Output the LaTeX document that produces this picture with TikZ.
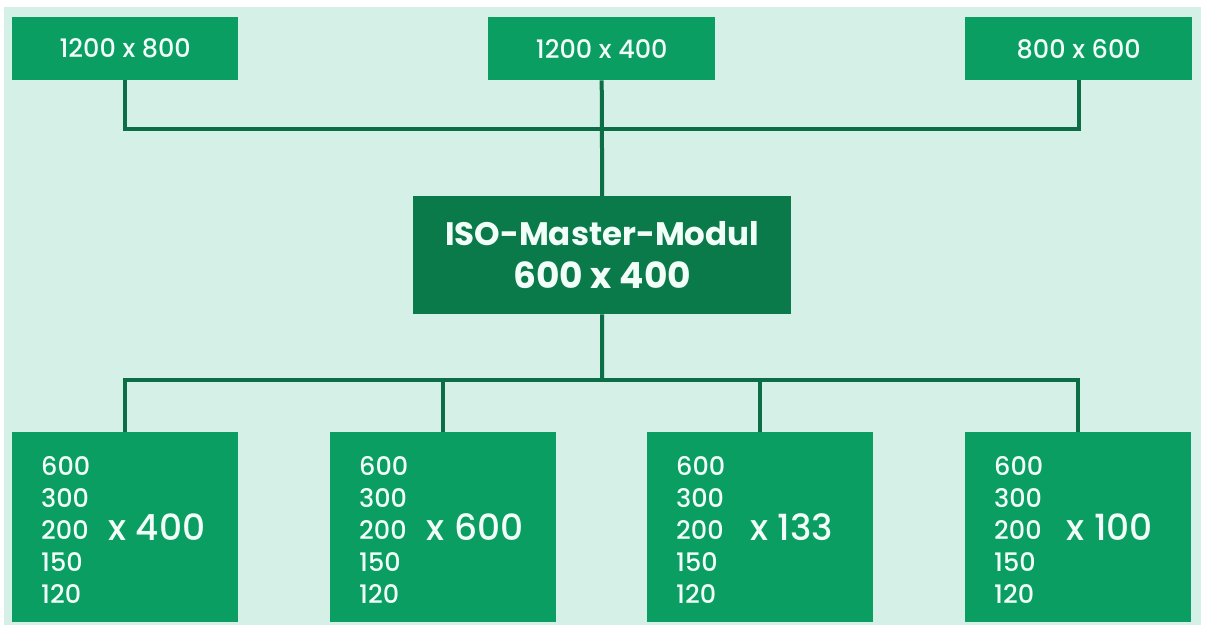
\documentclass[tikz,border=0pt]{standalone}
\usepackage{fontspec}
\setmainfont{Poppins}
\newfontfamily\medfont{Poppins Medium}
\definecolor{bg}{HTML}{D5F0E6}
\definecolor{boxg}{HTML}{0A9E63}
\definecolor{mastg}{HTML}{0B7A4B}
\definecolor{lineg}{HTML}{0C6E46}
\definecolor{txt}{HTML}{F2FFF8}
\begin{document}
\begin{tikzpicture}[x=1pt,y=-1pt,
  gbox/.style={fill=boxg,draw=none,inner sep=0pt,anchor=north west},
  conn/.style={draw=lineg,line width=4pt},
  lbl/.style={text=txt,font=\medfont\fontsize{25.5}{28}\selectfont,inner sep=0pt},
  lst/.style={text=txt,font=\medfont\fontsize{25.5}{32}\selectfont,align=left,inner sep=0pt,anchor=west},
  big/.style={text=txt,font=\medfont\fontsize{36}{40}\selectfont,inner sep=0pt}]
\useasboundingbox (0,0) rectangle (1207,625);
\fill[white] (0,0) rectangle (1207,625);
\fill[bg] (4,7) rectangle (1201,625);
% top boxes
\node[gbox,minimum width=226pt,minimum height=63pt] (t1) at (12,17) {};
\node[gbox,minimum width=227pt,minimum height=63pt] (t2) at (488,17) {};
\node[gbox,minimum width=227pt,minimum height=63pt] (t3) at (965,17) {};
\node[lbl] at (t1.center) {1200 x 800};
\node[lbl] at (t2.center) {1200 x 400};
\node[lbl] at (t3.center) {800 x 600};
% master
\node[gbox,fill=mastg,minimum width=378pt,minimum height=118pt] (c) at (413,196) {};
\node[text=txt,font=\bfseries\fontsize{32.5}{43}\selectfont,align=center,inner sep=0pt] at (c.center) {ISO-Master-Modul\\\fontsize{36}{43}\selectfont 600 x 400};
% bottom boxes
\foreach \n/\x/\v in {b1/12/400,b2/330/600,b3/647/133,b4/965/100}{
  \node[gbox,minimum width=226pt,minimum height=190pt] (\n) at (\x,432) {};
  \node[lst] at (\x+29,530) {600\\300\\200\\150\\120};
  \node[big] at (\x+145,527) {x \v};
}
% connectors
\coordinate (topbus) at (602,129);
\coordinate (botbus) at (602,380);
\draw[conn] (t1.south) |- (topbus) -| (t3.south);
\draw[conn] (t2.south) -- (c.north);
\draw[conn] (c.south) -- (botbus);
\draw[conn] (b1.north) |- (botbus) -| (b4.north);
\draw[conn] (b2.north) -- (b2.north |- botbus);
\draw[conn] (b3.north) -- (b3.north |- botbus);
\end{tikzpicture}
\end{document}
